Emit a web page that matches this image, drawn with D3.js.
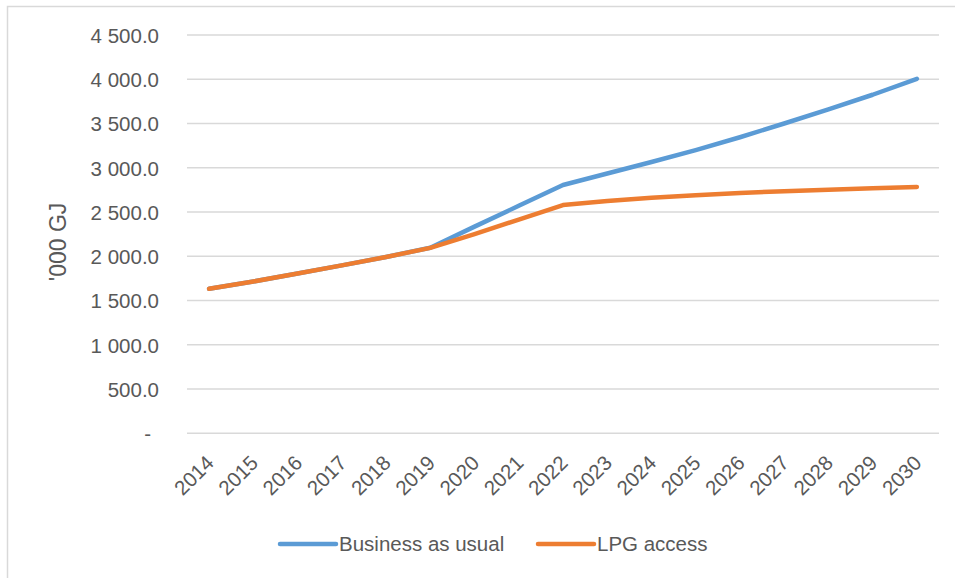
<!DOCTYPE html>
<html>
<head>
<meta charset="utf-8">
<script src="https://cdn.jsdelivr.net/npm/d3@7"></script>
<style>
  html, body { margin: 0; padding: 0; background: #fff; }
  svg { display: block; }
  text { font-family: "Liberation Sans", Arial, sans-serif; fill: #595959; }
</style>
</head>
<body>
<svg id="chart" width="955" height="578"></svg>
<script>
// Household energy demand projections, '000 GJ
const years = ["2014","2015","2016","2017","2018","2019","2020","2021","2022",
               "2023","2024","2025","2026","2027","2028","2029","2030"];
const businessAsUsual = [1633, 1715, 1805, 1897, 1992, 2097, 2335, 2570, 2805,
                         2935, 3065, 3200, 3345, 3500, 3660, 3825, 4005];
const lpgAccess = [1633, 1715, 1805, 1897, 1992, 2095, 2250, 2415, 2579,
                   2625, 2660, 2690, 2715, 2735, 2752, 2768, 2783];
const yTicks = [0, 500, 1000, 1500, 2000, 2500, 3000, 3500, 4000, 4500];
const seriesNames = ["Business as usual", "LPG access"];
const seriesColors = ["#5B9BD5", "#ED7D31"];

const svg = d3.select("#chart");

// outer chart frame
svg.append("rect")
  .attr("x", 7.5).attr("y", 6.5)
  .attr("width", 1000).attr("height", 700)
  .attr("fill", "none").attr("stroke", "#D9D9D9").attr("stroke-width", 1.5);

const plot = { left: 187, right: 939, top: 35, bottom: 433.3 };

const x = d3.scaleBand().domain(years).range([plot.left, plot.right]);
const y = d3.scaleLinear().domain([0, 4500]).range([plot.bottom, plot.top]);

// horizontal gridlines
svg.append("g")
  .selectAll("line")
  .data(yTicks)
  .join("line")
  .attr("x1", plot.left).attr("x2", plot.right)
  .attr("y1", d => y(d)).attr("y2", d => y(d))
  .attr("stroke", "#D9D9D9").attr("stroke-width", 1.5);

// y-axis labels
const fmt = d => d === 0 ? "-" :
  d3.format(",.1f")(d).replace(/,/g, "\u00a0");
const yAxis = d3.axisLeft(y).tickValues(yTicks).tickSize(0).tickPadding(0).tickFormat(fmt);
const gy = svg.append("g").attr("transform", "translate(159,0)").call(yAxis);
gy.select(".domain").remove();
gy.selectAll("text")
  .attr("font-size", 20.5)
  .attr("font-family", "'Liberation Sans', Arial, sans-serif")
  .attr("fill", "#595959")
  .attr("dy", "0.36em")
  .attr("x", d => d === 0 ? -8 : 0);

// x-axis labels, rotated
const xAxis = d3.axisBottom(x).tickSize(0).tickPadding(0);
const gx = svg.append("g").attr("transform", `translate(0,${plot.bottom})`).call(xAxis);
gx.select(".domain").remove();
gx.selectAll("text")
  .attr("font-size", 20.5)
  .attr("font-family", "'Liberation Sans', Arial, sans-serif")
  .attr("fill", "#595959")
  .attr("text-anchor", "end")
  .attr("dy", 0)
  .attr("y", 0)
  .attr("transform", "translate(6,31) rotate(-45)");

// y-axis title
svg.append("text")
  .attr("transform", "translate(66,242) rotate(-90)")
  .attr("text-anchor", "middle")
  .attr("font-size", 23)
  .text("'000 GJ");

// series lines
const line = d3.line()
  .x((d, i) => x(years[i]) + x.bandwidth() / 2)
  .y(d => y(d));

[businessAsUsual, lpgAccess].forEach((vals, k) => {
  svg.append("path")
    .datum(vals)
    .attr("d", line)
    .attr("fill", "none")
    .attr("stroke", seriesColors[k])
    .attr("stroke-width", 4.5)
    .attr("stroke-linecap", "round")
    .attr("stroke-linejoin", "round");
});

// legend
const legendItems = [
  { name: seriesNames[0], color: seriesColors[0], x: 280 },
  { name: seriesNames[1], color: seriesColors[1], x: 538 }
];
const lg = svg.append("g");
legendItems.forEach(it => {
  lg.append("line")
    .attr("x1", it.x).attr("x2", it.x + 56)
    .attr("y1", 544).attr("y2", 544)
    .attr("stroke", it.color).attr("stroke-width", 4.5)
    .attr("stroke-linecap", "round");
  lg.append("text")
    .attr("x", it.x + 59).attr("y", 544)
    .attr("dy", "0.36em")
    .attr("font-size", 20.5)
    .text(it.name);
});
</script>
</body>
</html>
